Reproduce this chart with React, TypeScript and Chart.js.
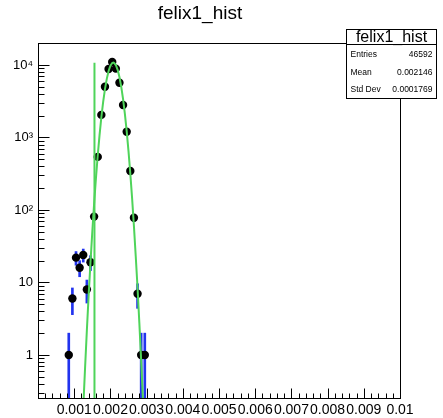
import React, { useEffect, useRef } from "react";
import { Chart, registerables } from "chart.js";

Chart.register(...registerables);

// ---- data ----
const binCenters = [
  0.00085, 0.00095, 0.00105, 0.00115, 0.00125, 0.00135, 0.00145, 0.00155,
  0.00165, 0.00175, 0.00185, 0.00195, 0.00205, 0.00215, 0.00225, 0.00235,
  0.00245, 0.00255, 0.00265, 0.00275, 0.00285, 0.00295,
];
const counts = [
  1, 6, 22, 16, 24, 8, 19, 81, 540, 2050, 5000, 8800, 11000, 8900, 5700, 2800,
  1200, 345, 78, 7, 1, 1,
];
const errors = [
  1, 2.4, 4.7, 4, 4.9, 2.8, 4.4, 9, 23, 45, 71, 94, 105, 94, 75, 53, 35, 19,
  8.8, 2.6, 1, 1,
];

const fitX = [
  0.00126, 0.0013, 0.00135, 0.0014, 0.00145, 0.0015, 0.00155, 0.0016, 0.00165,
  0.0017, 0.00175, 0.0018, 0.00185, 0.0019, 0.00195, 0.002, 0.00205, 0.00208,
  0.0021, 0.00215, 0.0022, 0.00225, 0.0023, 0.00235, 0.0024, 0.00245, 0.0025,
  0.00255, 0.0026, 0.00265, 0.0027, 0.00275, 0.0028, 0.00285, 0.0029,
];
const fitY = [
  0.24, 0.66, 2.2, 6.8, 19, 50, 122, 273, 565, 1080, 1900, 3090, 4650, 6440,
  8250, 9750, 10650, 10800, 10730, 9990, 8580, 6810, 4990, 3380, 2110, 1220,
  647, 318, 144, 60, 23, 8.4, 2.75, 0.83, 0.24,
];

const vLineX = [0.00156, 0.00156];
const vLineY = [10700, 0.1];

const xTickValues = [0, 0.001, 0.002, 0.003, 0.004, 0.005, 0.006, 0.007, 0.008, 0.009, 0.01];
const xTickLabels = ["", "0.001", "0.002", "0.003", "0.004", "0.005", "0.006", "0.007", "0.008", "0.009", "0.01"];
const yTickValues = [1, 10, 100, 1000, 10000];
const yTickLabels = ["1", "10", "10²", "10³", "10⁴"];

const histTitle = "felix1_hist";
const statNames = ["Entries", "Mean", "Std Dev"];
const statValues = ["46592", "0.002146", "0.0001769"];

const FONT = "'Liberation Sans', Arial, Helvetica, sans-serif";

const rootFrame = {
  id: "rootFrame",
  afterDraw(chart: any) {
    const { ctx, chartArea: a, scales } = chart;
    const x = scales.x;
    const y = scales.y;
    const L = Math.round(a.left) + 0.5;
    const R = Math.round(a.right) + 0.5;
    const T = Math.round(a.top) + 0.5;
    const B = Math.round(a.bottom) + 0.5;
    ctx.save();
    ctx.strokeStyle = "#000";
    ctx.lineWidth = 1;
    ctx.strokeRect(L, T, R - L, B - T);
    ctx.beginPath();
    // x ticks (inward)
    for (let i = 0; i <= 50; i++) {
      const v = i * 0.0002;
      const px = Math.round(x.getPixelForValue(v)) + 0.5;
      const len = i % 5 === 0 ? 10 : 5;
      ctx.moveTo(px, B);
      ctx.lineTo(px, B - len);
    }
    // y ticks (inward)
    for (let k = -1; k <= 4; k++) {
      for (let m = 1; m <= 9; m++) {
        const v = m * Math.pow(10, k);
        if (v < y.min || v > y.max) continue;
        const py = Math.round(y.getPixelForValue(v)) + 0.5;
        const len = m === 1 ? 11 : 6;
        ctx.moveTo(L, py);
        ctx.lineTo(L + len, py);
      }
    }
    ctx.stroke();

    // stat box
    const bx = 346.5, by = 29.5, bw = 90, bh = 69;
    ctx.fillStyle = "#fff";
    ctx.fillRect(bx, by, bw, bh);
    ctx.strokeRect(bx, by, bw, bh);
    ctx.beginPath();
    ctx.moveTo(bx, 44.5);
    ctx.lineTo(bx + bw, 44.5);
    ctx.stroke();
    ctx.fillStyle = "#000";
    ctx.textBaseline = "middle";
    ctx.textAlign = "center";
    ctx.font = `16px ${FONT}`;
    ctx.fillText(histTitle, bx + bw / 2, 37.5);
    ctx.font = `8.5px ${FONT}`;
    const rowsY = [54.5, 72.5, 90];
    statNames.forEach((n, i) => {
      ctx.textAlign = "left";
      ctx.fillText(n, 350.5, rowsY[i]);
      ctx.textAlign = "right";
      ctx.fillText(statValues[i], 432.5, rowsY[i]);
    });
    ctx.restore();
  },
};

export default function App() {
  const ref = useRef<HTMLCanvasElement | null>(null);
  useEffect(() => {
    if (!ref.current) return;
    const errData = binCenters.map((c, i) => ({
      x: c,
      y: [Math.max(counts[i] - errors[i], 0.01), counts[i] + errors[i]],
    }));
    const ptData = binCenters.map((c, i) => ({ x: c, y: counts[i] }));
    const fitData = fitX.map((v, i) => ({ x: v, y: fitY[i] }));
    const vData = vLineX.map((v, i) => ({ x: v, y: vLineY[i] }));
    const chart = new Chart(ref.current, {
      type: "scatter",
      data: {
        datasets: [
          {
            type: "line",
            data: fitData,
            borderColor: "#4fd45a",
            borderWidth: 2,
            pointRadius: 0,
            fill: false,
            order: 0,
          } as any,
          {
            type: "line",
            data: vData,
            borderColor: "#4fd45a",
            borderWidth: 2,
            pointRadius: 0,
            fill: false,
            order: 0,
          } as any,
          {
            type: "scatter",
            data: ptData,
            backgroundColor: "#000",
            borderWidth: 0,
            pointRadius: 4.2,
            order: 1,
          } as any,
          {
            type: "bar",
            data: errData,
            backgroundColor: "#2233ee",
            borderWidth: 0,
            barThickness: 2,
            grouped: false,
            order: 2,
          } as any,
        ],
      },
      options: {
        animation: false,
        responsive: false,
        events: [],
        layout: { padding: { left: 0, right: 43, top: 0, bottom: 0 } },
        plugins: {
          legend: { display: false },
          tooltip: { enabled: false },
          title: {
            display: true,
            text: histTitle,
            color: "#000",
            font: { family: FONT, size: 19, weight: "normal" as any },
            padding: { top: 2, bottom: 18.2 },
          },
        },
        scales: {
          x: {
            type: "linear",
            min: 0,
            max: 0.01,
            offset: false,
            grid: { display: false, drawTicks: false, offset: false },
            border: { display: false },
            afterBuildTicks: (s: any) => {
              s.ticks = xTickValues.map((v) => ({ value: v }));
            },
            afterFit: (s: any) => {
              s.height = 20;
            },
            ticks: {
              autoSkip: false,
              maxRotation: 0,
              minRotation: 0,
              padding: 4,
              color: "#000",
              font: { family: FONT, size: 14 },
              callback: (_v: any, i: number) => xTickLabels[i],
            },
          },
          y: {
            type: "logarithmic",
            min: 0.255,
            max: 20100,
            grid: { display: false, drawTicks: false },
            border: { display: false },
            afterBuildTicks: (s: any) => {
              s.ticks = yTickValues.map((v) => ({ value: v }));
            },
            afterFit: (s: any) => {
              s.width = 38;
            },
            ticks: {
              autoSkip: false,
              padding: 5,
              color: "#000",
              font: { family: FONT, size: 13 },
              callback: (_v: any, i: number) => yTickLabels[i],
            },
          },
        },
      },
      plugins: [rootFrame],
    });
    return () => chart.destroy();
  }, []);
  return (
    <div style={{ position: "absolute", left: 0, top: 0, width: 443, height: 418, background: "#fff" }}>
      <canvas ref={ref} width={443} height={418} style={{ display: "block" }} />
    </div>
  );
}
